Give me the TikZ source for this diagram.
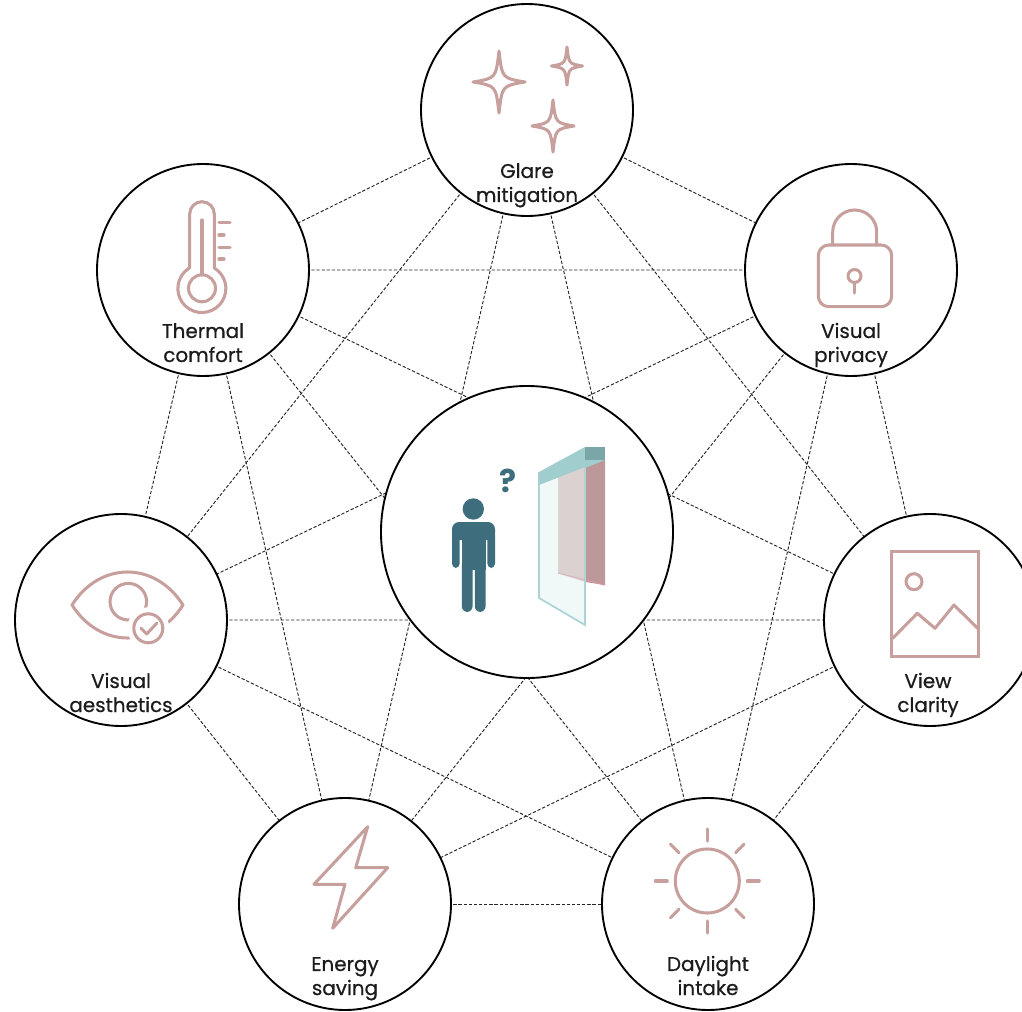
\documentclass[tikz,border=0pt]{standalone}
\usepackage{fontspec}
\setmainfont{Poppins}
\newfontfamily\capfont{Poppins}[FakeBold=0.6]
\usetikzlibrary{backgrounds}

\definecolor{rosy}{RGB}{199,160,158}
\definecolor{inkteal}{RGB}{62,110,126}
\definecolor{glassline}{RGB}{172,212,212}
\definecolor{glassfill}{RGB}{222,238,238}
\definecolor{framelight}{RGB}{160,206,206}
\definecolor{framedark}{RGB}{122,166,168}
\definecolor{shadelight}{RGB}{220,190,190}
\definecolor{shadedark}{RGB}{188,152,153}
\definecolor{shadeedge}{RGB}{214,150,162}
\definecolor{textgray}{RGB}{28,28,28}

\tikzset{
  goal/.style={circle, draw=black, line width=1.6pt, fill=white,
    minimum size=6.36cm, inner sep=0pt},
  hub/.style={goal, minimum size=8.76cm},
  caption/.style={anchor=base, align=center, text=textgray,
    font=\capfont\fontsize{17}{20.5}\selectfont},
  link/.style={draw=black!85, line width=0.8pt, dash pattern=on 2.8pt off 1.6pt},
  icon/.style={draw=rosy, line width=2.6pt, line cap=round, line join=round},
  sparkle/.pic={
    \draw[icon] (0,-1) .. controls (0.12,-0.12) .. (1,0)
      .. controls (0.12,0.12) .. (0,1)
      .. controls (-0.12,0.12) .. (-1,0)
      .. controls (-0.12,-0.12) .. cycle;
  }
}

\begin{document}
\begin{tikzpicture}[x=0.03cm, y=-0.03cm]
  \useasboundingbox (0,0) rectangle (1022,1012);
  \clip (0,0) rectangle (1022,1012);

  % the seven goals and the hub
  \node[goal] (glare) at (527,110) {};
  \node[goal] (thermal) at (203,270) {};
  \node[goal] (privacy) at (851,270) {};
  \node[goal] (aesthetics) at (121,620) {};
  \node[goal] (clarity) at (930,620) {};
  \node[goal] (energy) at (345,904) {};
  \node[goal] (daylight) at (708,904) {};
  \node[hub] (hub) at (527,532) {};

  % every goal tied to every other one
  \begin{scope}[on background layer]
    \draw[link] (glare.center) -- (thermal.center)
      (glare.center) -- (privacy.center)
      (glare.center) -- (aesthetics.center)
      (glare.center) -- (clarity.center)
      (glare.center) -- (energy.center)
      (glare.center) -- (daylight.center);
    \draw[link] (thermal.center) -- (privacy.center)
      (thermal.center) -- (aesthetics.center)
      (thermal.center) -- (clarity.center)
      (thermal.center) -- (energy.center)
      (thermal.center) -- (daylight.center);
    \draw[link] (privacy.center) -- (aesthetics.center)
      (privacy.center) -- (clarity.center)
      (privacy.center) -- (energy.center)
      (privacy.center) -- (daylight.center);
    \draw[link] (aesthetics.center) -- (clarity.center)
      (aesthetics.center) -- (energy.center)
      (aesthetics.center) -- (daylight.center);
    \draw[link] (clarity.center) -- (energy.center)
      (clarity.center) -- (daylight.center);
    \draw[link] (energy.center) -- (daylight.center);
  \end{scope}

  % captions (base = last line)
  \node[caption] (glare-text) at (527,202) {Glare\\mitigation};
  \node[caption] (thermal-text) at (203,362) {Thermal\\comfort};
  \node[caption] (privacy-text) at (851,362) {Visual\\privacy};
  \node[caption] (aesthetics-text) at (121,712) {Visual\\aesthetics};
  \node[caption] (clarity-text) at (928,712) {View\\clarity};
  \node[caption] (energy-text) at (345,995) {Energy\\saving};
  \node[caption] (daylight-text) at (708,995) {Daylight\\intake};

  % glare: three sparkles
  \pic[xscale=26, yscale=31] at (499,82) {sparkle};
  \pic[xscale=15.5, yscale=19] at (567,66) {sparkle};
  \pic[xscale=21, yscale=26] at (553,126) {sparkle};

  % thermometer
  \draw[icon] (189.7,268) -- (189.7,214) arc[start angle=180, end angle=360, radius=12.3]
    -- (214.3,268) arc[start angle=-58.8, end angle=238.8, radius=24];
  \draw[icon] (202,288.3) circle (13.5);
  \draw[icon] (202,220) -- (202,275);
  \draw[icon] (219,222.7) -- (230,222.7);
  \draw[icon] (219,235) -- (224,235);
  \draw[icon] (219,247.3) -- (230,247.3);
  \draw[icon] (219,259) -- (224,259);

  % padlock
  \draw[icon, rounded corners=9] (818.3,245) rectangle (891.7,306.7);
  \draw[icon] (832.7,245) -- (832.7,232) arc[start angle=180, end angle=360, radius=22]
    -- (876.7,245);
  \draw[icon] (854.5,276) circle (6.5);
  \draw[icon] (854.5,282.5) -- (854.5,293);

  % eye with a tick badge
  \draw[icon] (72,605) .. controls (100,561) and (155,561) .. (183,605)
    .. controls (155,649) and (100,649) .. cycle;
  \draw[icon] (128.3,601.7) circle (18.3);
  \fill[white] (148.3,628.3) circle (21);
  \draw[icon] (148.3,628.3) circle (14.5);
  \draw[icon] (141,628.3) -- (146.7,634) -- (156.7,623.3);

  % picture frame
  \draw[icon, line join=miter] (891.7,551.7) rectangle (978.3,656.7);
  \draw[icon] (914,581.7) circle (8);
  \draw[icon] (892.7,638.3) -- (917.3,613.3) -- (935,628.3) -- (954,605) -- (977.7,628.3);

  % lightning bolt
  \draw[icon] (367.7,826.7) -- (314,884.3) -- (345,884.3) -- (332.7,928.3)
    -- (387.7,867.7) -- (355.7,867.7) -- cycle;

  % sun
  \draw[icon] (707.3,881) circle (32);
  \begin{scope}[shift={(707.3,881)}]
    \foreach \a in {0,45,...,315}
      \draw[icon] (\a:40) -- (\a:52);
  \end{scope}

  % hub: someone in front of a window with a blind
  \fill[shadelight] (558,476) -- (585,466) -- (585,582) -- (558,573) -- cycle;
  \fill[shadedark] (585,460) -- (605,460) -- (605,585) -- (585,582) -- cycle;
  \draw[shadeedge, line width=1pt] (558,573) -- (605,585);
  \fill[glassfill, fill opacity=0.4] (539,472) -- (585,450) -- (585,625) -- (539,598) -- cycle;
  \draw[glassline, line width=1.5pt] (539,472) -- (539,598) -- (585,625) -- (585,450);
  \fill[framelight] (539,472) -- (585,447) -- (585,467) -- (539,485) -- cycle;
  \fill[framedark] (585,447) -- (605,447) -- (605,460) -- (585,460) -- cycle;
  \fill[framelight] (585,460) -- (605,460) -- (585,468) -- cycle;

  \fill[inkteal] (473.3,509) circle (10.7);
  \fill[inkteal, rounded corners=6] (452,522) rectangle (495,540);
  \fill[inkteal, rounded corners=3.7] (452,530) rectangle (459.6,568);
  \fill[inkteal, rounded corners=3.7] (487.4,530) rectangle (495,568);
  \fill[inkteal] (461.8,524) rectangle (485.6,570);
  \fill[inkteal, rounded corners=5] (461.8,560) rectangle (472.6,612);
  \fill[inkteal, rounded corners=5] (474.8,560) rectangle (485.6,612);
  \node[text=inkteal, font=\fontsize{27}{27}\selectfont\bfseries] (ask) at (508,481) {?};
\end{tikzpicture}
\end{document}
